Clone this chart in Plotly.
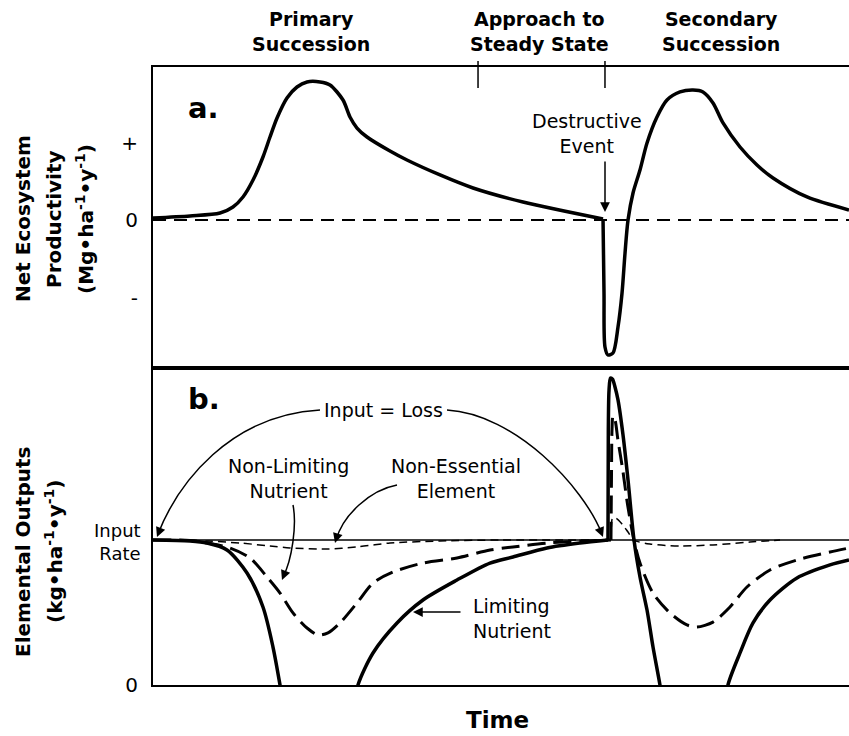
import plotly.graph_objects as go

# ---------------- DATA ----------------
# Time axis in arbitrary units (0 = start of primary succession, 100 = right edge)
# Panel a: net ecosystem productivity (relative: + = 1, 0, - = -1)
nep_primary_time = [0.0, 5.32, 9.63, 11.49, 12.93, 14.37, 15.80, 16.81, 17.82, 19.25, 20.69,
                    22.13, 24.0, 25.43, 27.3, 28.3, 29.31, 30.75, 34.05, 36.49, 41.24, 45.98,
                    53.16, 64.66]
nep_primary_value = [0.026, 0.052, 0.09, 0.168, 0.297, 0.516, 0.813, 1.071, 1.316, 1.574, 1.716,
                     1.781, 1.781, 1.742, 1.548, 1.329, 1.187, 1.071, 0.89, 0.774, 0.581, 0.413,
                     0.232, 0.013]
nep_secondary_time = [64.66, 64.80, 64.94, 65.37, 66.09, 66.81, 67.39, 67.82, 68.25, 68.97, 69.97,
                      70.98, 72.41, 73.85, 75.72, 77.59, 79.02, 80.46, 81.9, 84.34, 86.78, 89.08,
                      93.97, 100.0]
nep_secondary_value = [0.013, -0.942, -1.639, -1.742, -1.716, -1.381, -0.942, -0.426, 0.0, 0.348,
                       0.645, 0.994, 1.329, 1.548, 1.652, 1.677, 1.652, 1.51, 1.252, 0.942, 0.71,
                       0.542, 0.297, 0.129]
nep_zero_time = [0.0, 100.0]
nep_zero_value = [0.0, 0.0]

# Panel b: elemental outputs (relative to the input rate = 1)
input_rate_time = [0.0, 100.0]
input_rate_value = [1.0, 1.0]

limiting_a_time = [0.0, 5.32, 7.76, 10.63, 13.51, 15.80, 17.24, 18.25, 18.82]
limiting_a_value = [1.0, 0.993, 0.979, 0.931, 0.772, 0.538, 0.262, 0.0, -0.17]
limiting_b_time = [28.88, 29.45, 31.61, 35.06, 38.79, 43.68, 48.42, 51.72, 56.61, 61.35, 65.37]
limiting_b_value = [-0.17, 0.0, 0.221, 0.428, 0.586, 0.724, 0.841, 0.883, 0.945, 0.979, 1.0]
limiting_c_time = [65.37, 65.42, 65.52, 65.73, 66.02, 66.38, 66.81, 67.53, 68.25, 69.11, 69.97,
                   70.98, 71.84, 72.84, 73.28]
limiting_c_value = [1.0, 1.76, 2.03, 2.117, 2.11, 2.055, 1.966, 1.724, 1.414, 1.0, 0.745,
                    0.517, 0.262, 0.0, -0.14]
limiting_d_time = [82.18, 82.61, 84.34, 86.21, 88.65, 92.53, 97.27, 100.0]
limiting_d_value = [-0.17, 0.0, 0.221, 0.428, 0.586, 0.738, 0.828, 0.862]

nonlimiting_a_time = [0.0, 5.32, 7.76, 11.06, 13.94, 16.38, 18.25, 20.11, 22.13, 23.71, 25.14,
                      26.87, 29.31, 31.61, 34.48, 38.79, 43.68, 48.42, 51.72, 56.61, 61.35, 65.8]
nonlimiting_a_value = [1.0, 0.997, 0.979, 0.945, 0.876, 0.745, 0.634, 0.497, 0.393, 0.345, 0.359,
                       0.428, 0.566, 0.703, 0.779, 0.841, 0.876, 0.931, 0.952, 0.979, 0.993, 1.0]
nonlimiting_b_time = [65.8, 65.87, 65.95, 66.09, 66.38, 66.8, 67.5, 68.2, 69.1, 69.97, 71.84,
                      74.28, 76.72, 78.16, 80.46, 82.9, 85.34, 88.65, 92.53, 97.27, 100.0]
nonlimiting_b_value = [1.0, 1.41, 1.76, 1.855, 1.83, 1.69, 1.48, 1.24, 1.0, 0.841, 0.634,
                       0.497, 0.414, 0.4, 0.434, 0.538, 0.676, 0.793, 0.862, 0.917, 0.945]

nonessential_a_time = [0.0, 7.76, 12.5, 16.81, 19.68, 25.0, 29.31, 34.05, 41.24, 49.86, 65.8]
nonessential_a_value = [1.0, 0.993, 0.979, 0.959, 0.945, 0.938, 0.952, 0.979, 0.993, 1.0, 1.0]
nonessential_b_time = [65.8, 65.87, 66.02, 66.52, 67.39, 68.25, 69.1, 71.41, 75.72, 80.46,
                       85.78, 90.09]
nonessential_b_value = [1.0, 1.10, 1.15, 1.15, 1.11, 1.055, 1.0, 0.972, 0.959, 0.966,
                        0.986, 1.0]

phase_boundaries = [46.7, 64.94]
top_tick_vals = [1, 0, -1]
top_tick_text = ['+', '0', '-']
bottom_tick_vals = [0]
bottom_tick_text = ['0']

# ---------------- FIGURE ----------------
FIG_W, FIG_H = 849, 736
ML, MR, MT, MB = 153, 0, 67, 51
PLOT_W = FIG_W - ML - MR
PLOT_H = FIG_H - MT - MB
SPLIT = 317 / PLOT_H  # bottom panel fraction

BOLD = 'DejaVu Sans'
REG = 'DejaVu Sans'


# helpers for decoration placement (pixel -> data/paper)
def tx(px):
    return (px - ML) / (PLOT_W / 100.0)


def by(py):
    return (685 - py) / 145.0


def ty(py):
    return (220 - py) / 77.5


def py_paper(py):
    return (FIG_H - MB - py) / PLOT_H


def px_paper(px):
    return (px - ML) / PLOT_W


fig = go.Figure()

solid = dict(color='black', width=3.5, shape='spline', smoothing=0.8)

# Panel a
fig.add_trace(go.Scatter(x=nep_zero_time, y=nep_zero_value, xaxis='x2', yaxis='y2', mode='lines',
                         line=dict(color='black', width=2, dash='13px,8px'), hoverinfo='skip'))
fig.add_trace(go.Scatter(x=nep_primary_time, y=nep_primary_value, xaxis='x2', yaxis='y2',
                         mode='lines', line=solid, hoverinfo='skip'))
fig.add_trace(go.Scatter(x=nep_secondary_time, y=nep_secondary_value, xaxis='x2', yaxis='y2',
                         mode='lines', line=solid, hoverinfo='skip'))

# Panel b
fig.add_trace(go.Scatter(x=input_rate_time, y=input_rate_value, mode='lines',
                         line=dict(color='black', width=1.5), hoverinfo='skip'))
ne_line = dict(color='black', width=1.5, dash='8px,5px', shape='spline', smoothing=0.8)
for xs, ys in [(nonessential_a_time, nonessential_a_value), (nonessential_b_time, nonessential_b_value)]:
    fig.add_trace(go.Scatter(x=xs, y=ys, mode='lines', line=ne_line, hoverinfo='skip'))
nl_line = dict(color='black', width=3, dash='18px,8px', shape='spline', smoothing=0.8)
for xs, ys in [(nonlimiting_a_time, nonlimiting_a_value), (nonlimiting_b_time, nonlimiting_b_value)]:
    fig.add_trace(go.Scatter(x=xs, y=ys, mode='lines', line=nl_line, hoverinfo='skip'))
for xs, ys in [(limiting_a_time, limiting_a_value), (limiting_b_time, limiting_b_value),
               (limiting_c_time, limiting_c_value), (limiting_d_time, limiting_d_value)]:
    fig.add_trace(go.Scatter(x=xs, y=ys, mode='lines', line=solid, hoverinfo='skip'))

axis_common = dict(showline=True, linecolor='black', linewidth=2, showgrid=False, zeroline=False)

fig.update_layout(
    width=FIG_W, height=FIG_H,
    margin=dict(l=ML, r=MR, t=MT, b=MB, pad=0),
    plot_bgcolor='white', paper_bgcolor='white', showlegend=False,
    xaxis=dict(domain=[0, 1], range=[0, 100], anchor='y', mirror=True, showticklabels=False,
               ticks='', **axis_common),
    yaxis=dict(domain=[0, SPLIT], range=[0, 317 / 145.0], anchor='x', tickvals=bottom_tick_vals,
               ticktext=bottom_tick_text, ticks='', ticklabelstandoff=9,
               tickfont=dict(family=REG, size=20, color='black'), **axis_common),
    xaxis2=dict(domain=[0, 1], range=[0, 100], anchor='y2', mirror=True, showticklabels=False,
                ticks='', **axis_common),
    yaxis2=dict(domain=[SPLIT, 1], range=[ty(368), ty(67)], anchor='x2', tickvals=top_tick_vals,
                ticktext=top_tick_text, ticks='', ticklabelstandoff=9,
                tickfont=dict(family=REG, size=20, color='black'), **axis_common),
)

shapes = []
for b in phase_boundaries:
    shapes.append(dict(type='line', xref='x2', yref='paper', x0=b, x1=b,
                       y0=py_paper(88), y1=py_paper(61), line=dict(color='black', width=1.5)))


def curve(p0, p1, p2, p3):
    pts = [(tx(x), by(y)) for x, y in (p0, p1, p2, p3)]
    path = 'M {:.3f},{:.4f} C {:.3f},{:.4f} {:.3f},{:.4f} {:.3f},{:.4f}'.format(
        *pts[0], *pts[1], *pts[2], *pts[3])
    return dict(type='path', xref='x', yref='y', path=path, line=dict(color='black', width=1.5))


shapes.append(curve((320, 410), (230, 415), (178, 483), (158, 534)))
shapes.append(curve((447, 410), (515, 414), (583, 486), (602, 534)))
shapes.append(curve((293, 505), (297, 525), (292, 560), (283, 577)))
shapes.append(curve((397, 485), (370, 490), (343, 515), (336, 540)))
fig.update_layout(shapes=shapes)

ann = []


def text(x, y, s, size=19, bold=False, xref='paper', yref='paper', xanchor='center', align='center', angle=0):
    ann.append(dict(x=x, y=y, xref=xref, yref=yref, text=s, showarrow=False, xanchor=xanchor,
                    yanchor='middle', align=align, textangle=angle,
                    font=dict(family=BOLD if bold else REG, size=size, color='black',
                              weight='bold' if bold else 'normal')))


def arrow(x, y, ax, ay, xref, yref):
    ann.append(dict(x=x, y=y, xref=xref, yref=yref, text='', showarrow=True, ax=ax, ay=ay,
                    axref='pixel', ayref='pixel', arrowhead=2, arrowsize=1.3, arrowwidth=1.5,
                    arrowcolor='black', standoff=0))


# Header phase labels
for cx, label in [(311, 'Primary<br>Succession'), (539, 'Approach to<br>Steady State'),
                  (721, 'Secondary<br>Succession')]:
    text(px_paper(cx), py_paper(32), label, size=19, bold=True)

# Panel letters
text(px_paper(186), py_paper(108), 'a.', size=29, bold=True, xanchor='left')
text(px_paper(186), py_paper(399), 'b.', size=29, bold=True, xanchor='left')

# Y-axis titles (rotated lines)
text(px_paper(23), py_paper(219), 'Net Ecosystem', size=20, bold=True, angle=-90)
text(px_paper(54), py_paper(219), 'Productivity', size=20, bold=True, angle=-90)
text(px_paper(85), py_paper(219), '(Mg•ha<sup>-1</sup>•y<sup>-1</sup>)', size=20, bold=True, angle=-90)
text(px_paper(23), py_paper(552), 'Elemental Outputs', size=20, bold=True, angle=-90)
text(px_paper(54), py_paper(552), '(kg•ha<sup>-1</sup>•y<sup>-1</sup>)', size=20, bold=True, angle=-90)

# Input rate label
text(px_paper(143), py_paper(542), 'Input<br>Rate', size=18, xanchor='right', align='right')

# X title
text(px_paper(497), py_paper(720), 'Time', size=23, bold=True)

# Panel a annotation
text(tx(587), ty(133), 'Destructive<br>Event', size=19, xref='x2', yref='y2')
arrow(tx(605), ty(212), 0, -52, 'x2', 'y2')

# Panel b annotations
text(tx(383), by(410), 'Input = Loss', size=19, xref='x', yref='y')
text(tx(288), by(478), 'Non-Limiting<br>Nutrient', size=19, xref='x', yref='y')
text(tx(456), by(478), 'Non-Essential<br>Element', size=19, xref='x', yref='y')
text(tx(471), by(618), 'Limiting<br>Nutrient', size=19, xref='x', yref='y', xanchor='left', align='left')
arrow(tx(413), by(612), 49, 0, 'x', 'y')
arrow(tx(157), by(537), 4, -10, 'x', 'y')
arrow(tx(603), by(537), -4, -10, 'x', 'y')
arrow(tx(282), by(580), 4, -10, 'x', 'y')
arrow(tx(335), by(543), 3, -10, 'x', 'y')

fig.update_layout(annotations=ann)

fig.write_html('out.html', config={'displayModeBar': False},
               post_script="document.body.style.margin='0px';")
